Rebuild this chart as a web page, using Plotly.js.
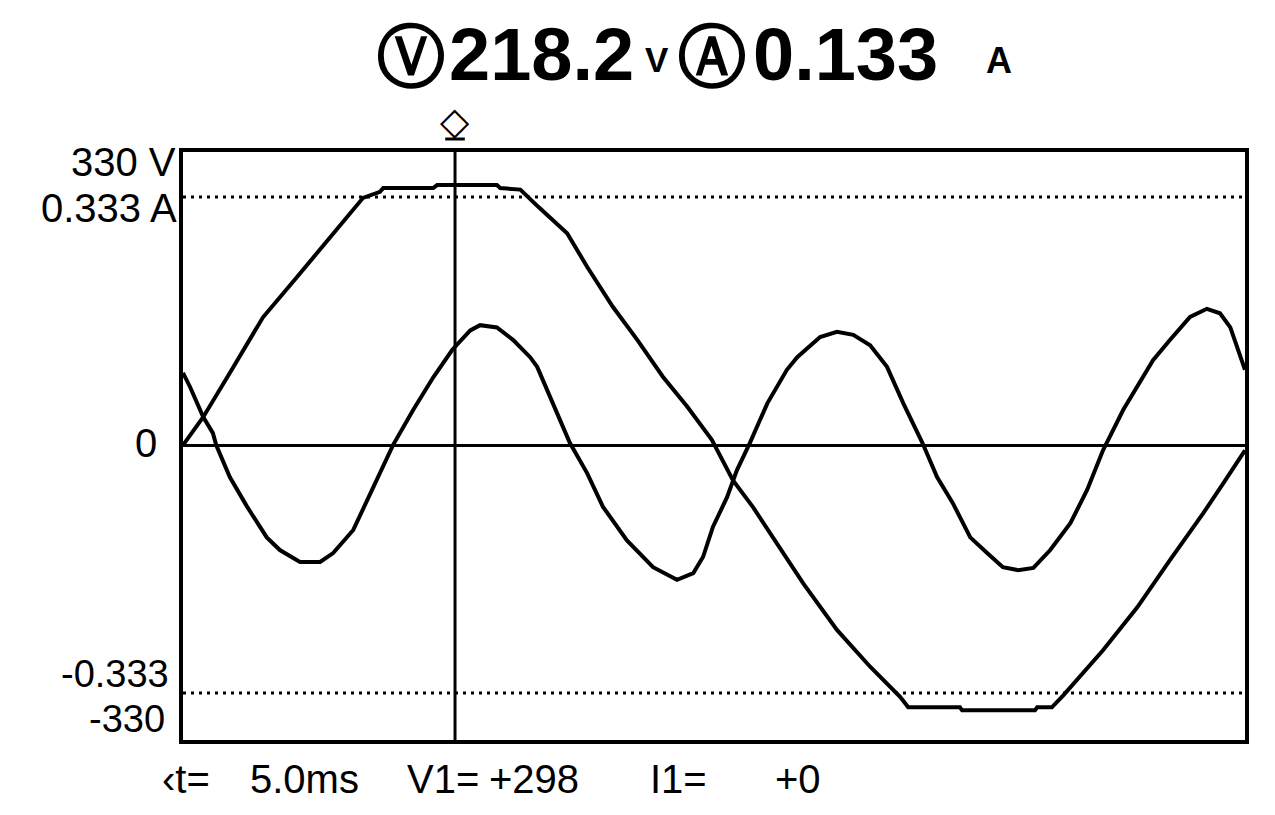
<!DOCTYPE html>
<html>
<head>
<meta charset="utf-8">
<script src="https://cdn.plot.ly/plotly-3.0.1.min.js"></script>
<style>
  html, body { margin: 0; padding: 0; background: #fff; }
  #chart { width: 1275px; height: 815px; }
</style>
</head>
<body>
<div id="chart"></div>
<script>
// ---- data (time in ms) ----
const voltTime = [0, 0.07, 0.37, 0.86, 1.47, 2.10, 2.70, 3.31, 3.62, 3.68, 4.60, 4.67, 5.77, 5.83, 6.20, 6.53, 7.06, 7.43, 7.90, 8.35, 8.82, 9.27, 9.72, 10.11, 10.48, 10.97, 11.40, 12.02, 12.63, 13.18, 13.33, 14.28, 14.32, 15.66, 15.70, 15.97, 16.18, 16.91, 17.54, 18.14, 18.75, 19.12, 19.49, 19.52];
const voltValues = [0, 7, 37, 96, 170, 224, 277, 329, 337, 342, 342, 346, 346, 342, 340, 317, 282, 237, 184, 140, 91, 51, 7, -47, -83, -136, -184, -246, -295, -335, -349, -349, -353, -353, -349, -349, -333, -273, -216, -153, -91, -51, -11, -7];

const currTime = [0, 0.13, 0.37, 0.55, 0.61, 0.86, 1.18, 1.54, 1.78, 2.15, 2.52, 2.76, 3.13, 3.38, 3.62, 3.86, 4.23, 4.60, 4.95, 5.28, 5.46, 5.77, 6.07, 6.38, 6.51, 6.80, 7.11, 7.43, 7.72, 8.16, 8.64, 9.08, 9.38, 9.56, 9.74, 10.00, 10.18, 10.42, 10.74, 11.10, 11.29, 11.71, 12.02, 12.32, 12.63, 12.94, 13.24, 13.59, 13.86, 14.15, 14.47, 14.78, 15.07, 15.35, 15.63, 15.94, 16.31, 16.62, 16.91, 17.28, 17.54, 17.83, 18.14, 18.51, 18.82, 19.06, 19.25, 19.38, 19.52];
const currValues = [0.097, 0.078, 0.038, 0.016, 0, -0.043, -0.083, -0.124, -0.141, -0.157, -0.157, -0.145, -0.114, -0.074, -0.038, 0, 0.047, 0.091, 0.128, 0.154, 0.161, 0.158, 0.141, 0.118, 0.105, 0.056, 0.003, -0.038, -0.083, -0.128, -0.164, -0.181, -0.172, -0.150, -0.110, -0.070, -0.034, 0.003, 0.056, 0.101, 0.118, 0.145, 0.152, 0.148, 0.134, 0.105, 0.056, 0.003, -0.043, -0.078, -0.124, -0.145, -0.164, -0.168, -0.165, -0.141, -0.105, -0.060, -0.007, 0.047, 0.078, 0.114, 0.141, 0.172, 0.183, 0.177, 0.158, 0.132, 0.101];

const voltFullScale = 330;     // V
const currFullScale = 0.333;   // A
const cursorTime = 5.0;        // ms

const headerVolt = "218.2";
const headerCurr = "0.133";
const readoutTime = "5.0ms";
const readoutV = "+298";
const readoutI = "+0";

// ---- layout helpers (pixel frame of plot area) ----
const L = 183, R = 1245, T = 152, B = 740;
const px = x => (x - L) / (R - L);
const py = y => (B - y) / (B - T);

const vRange = [-392.5, 390];
const iRange = vRange.map(v => v * currFullScale / voltFullScale);

const font = "Liberation Sans, Arial, sans-serif";
const black = "#000";

const traces = [
  { x: voltTime, y: voltValues, type: "scatter", mode: "lines", yaxis: "y",
    line: { color: black, width: 4 }, hoverinfo: "skip" },
  { x: currTime, y: currValues, type: "scatter", mode: "lines", yaxis: "y2",
    line: { color: black, width: 4 }, hoverinfo: "skip" }
];

function ann(text, x, y, size, opts) {
  return Object.assign({
    text: text, xref: "paper", yref: "paper", x: px(x), y: py(y),
    xanchor: "left", yanchor: "middle", showarrow: false,
    font: { family: font, size: size, color: black }
  }, opts || {});
}

const annotations = [
  // header
  ann("Ⓥ", 411, 56, 68, { xanchor: "center", font: { family: "DejaVu Sans", size: 68, color: black, weight: 700 } }),
  ann(headerVolt, 447, 55, 74, { font: { family: font, size: 74, color: black, weight: 700 } }),
  ann("V", 643, 59, 35, { font: { family: font, size: 35, color: black, weight: 700 } }),
  ann("Ⓐ", 712, 56, 68, { xanchor: "center", font: { family: "DejaVu Sans", size: 68, color: black, weight: 700 } }),
  ann(headerCurr, 751, 55, 74, { font: { family: font, size: 74, color: black, weight: 700 } }),
  ann("A", 984, 60, 36, { font: { family: font, size: 36, color: black, weight: 700 } }),
  // scale labels
  ann("330 V", 178, 162, 40, { xanchor: "right" }),
  ann("0.333 A", 179, 208, 40, { xanchor: "right" }),
  ann("0", 159, 443, 40, { xanchor: "right" }),
  ann("-0.333", 171, 674, 38, { xanchor: "right" }),
  ann("-330", 167, 719, 38, { xanchor: "right" }),
  // cursor marker
  { text: "◇", xref: "x", yref: "paper", x: cursorTime, y: py(121), xanchor: "center", yanchor: "middle",
    showarrow: false, font: { family: "DejaVu Sans", size: 38, color: black } },
  // readout
  ann("‹t=", 160, 779, 40),
  ann(readoutTime, 248, 779, 40),
  ann("V1=", 405, 779, 40),
  ann(readoutV, 487, 779, 40),
  ann("I1=", 648, 779, 40),
  ann(readoutI, 773, 779, 40)
];

const shapes = [
  { type: "line", xref: "paper", x0: 0, x1: 1, yref: "y", y0: voltFullScale, y1: voltFullScale,
    line: { color: black, width: 3, dash: "3px,5px" } },
  { type: "line", xref: "paper", x0: 0, x1: 1, yref: "y", y0: -voltFullScale, y1: -voltFullScale,
    line: { color: black, width: 3, dash: "3px,5px" } },
  { type: "line", xref: "x", x0: cursorTime, x1: cursorTime, yref: "paper", y0: 0, y1: 1,
    line: { color: black, width: 3 } },
  { type: "line", xref: "x", x0: cursorTime - 0.18, x1: cursorTime + 0.18, yref: "paper", y0: py(139), y1: py(139),
    line: { color: black, width: 3 } }
];

const layout = {
  width: 1275, height: 815,
  margin: { l: L, r: 1275 - R, t: T, b: 815 - B, pad: 0 },
  paper_bgcolor: "#fff", plot_bgcolor: "#fff",
  showlegend: false,
  xaxis: { range: [0, 19.52], showgrid: false, zeroline: false, showticklabels: false, ticks: "",
           showline: true, mirror: true, linecolor: black, linewidth: 4, fixedrange: true },
  yaxis: { range: vRange, showgrid: false, zeroline: true, zerolinecolor: black, zerolinewidth: 3,
           showticklabels: false, ticks: "", showline: true, mirror: true, linecolor: black, linewidth: 4, fixedrange: true },
  yaxis2: { range: iRange, overlaying: "y", side: "right", showgrid: false, zeroline: false,
            showticklabels: false, ticks: "", showline: false, fixedrange: true },
  annotations: annotations,
  shapes: shapes
};

Plotly.newPlot("chart", traces, layout, { staticPlot: true, displayModeBar: false });
</script>
</body>
</html>
